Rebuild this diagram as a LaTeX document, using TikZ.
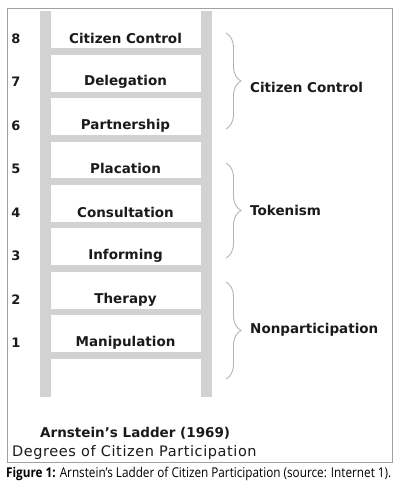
\documentclass[tikz,border=0pt]{standalone}
\usepackage{fontspec}
\usepackage{tikz}
\usetikzlibrary{decorations.pathreplacing}
\setmainfont{DejaVu Sans}
\newfontfamily\capfont[FakeStretch=0.87]{Open Sans}
\newfontfamily\subfont[LetterSpace=4]{DejaVu Sans}
\definecolor{railgray}{HTML}{D2D2D2}
\definecolor{bracegray}{HTML}{B4B4B4}
\definecolor{framegray}{HTML}{A0A0A0}
\definecolor{inkblack}{HTML}{1A1A1A}

\begin{document}
\begin{tikzpicture}[x=1pt, y=-1pt, inner sep=0pt]
        \tikzstyle{rail} = [fill=railgray, draw=none]
        \tikzstyle{rung} = [railgray, line width=6.5pt]
        \tikzstyle{rungtext} = [font=\fontsize{13.5}{14}\selectfont\bfseries, text=inkblack]
        \tikzstyle{num} = [font=\fontsize{13}{14}\selectfont\bfseries, text=inkblack]
        \tikzstyle{group} = [rungtext, anchor=west]
        \tikzstyle{bracket} = [draw=bracegray, line width=0.9pt, decorate, decoration={brace, amplitude=15pt, aspect=0.5}]

        \useasboundingbox (0,0) rectangle (400,494);
        \draw [framegray, line width=0.8pt] (7,8) rectangle (392,462);

        % ladder
        \fill [rail] (40,11) rectangle (50.5,397);
        \fill [rail] (201,11) rectangle (211.5,397);
        \foreach \y in {51.5, 94.9, 138.3, 181.7, 225.1, 268.5, 311.9, 355.3}
            \draw [rung] (50,\y) -- (201.5,\y);

        % rungs
        \node [rungtext] (r8) at (125.5,38.5) {Citizen Control};
        \node [rungtext] (r7) at (125.5,82) {Delegation};
        \node [rungtext] (r6) at (125.5,125.5) {Partnership};
        \node [rungtext] (r5) at (125.5,168.5) {Placation};
        \node [rungtext] (r4) at (125.5,212.5) {Consultation};
        \node [rungtext] (r3) at (125.5,256) {Informing};
        \node [rungtext] (r2) at (125.5,299.5) {Therapy};
        \node [rungtext] (r1) at (125.5,342.5) {Manipulation};

        \coordinate (numcol) at (16,0);
        \node [num] (n8) at (numcol |- r8) {8};
        \node [num] (n7) at (numcol |- r7) {7};
        \node [num] (n6) at (numcol |- r6) {6};
        \node [num] (n5) at (numcol |- r5) {5};
        \node [num] (n4) at (numcol |- r4) {4};
        \node [num] (n3) at (numcol |- r3) {3};
        \node [num] (n2) at (numcol |- r2) {2};
        \node [num] (n1) at (numcol |- r1) {1};

        % groups
        \coordinate (c1) at (226,33);  \coordinate (c2) at (226,129);
        \coordinate (t1) at (226,163); \coordinate (t2) at (226,258);
        \coordinate (p1) at (226,282); \coordinate (p2) at (226,379);
        \draw [bracket] (c1) -- (c2);
        \draw [bracket] (t1) -- (t2);
        \draw [bracket] (p1) -- (p2);
        \node [group] (gctrl) at (250,87) {Citizen Control};
        \node [group] (gtok) at (250,210) {Tokenism};
        \node [group] (gnon) at (250,330) {Nonparticipation};

        \node [rungtext, anchor=west] (title) at (40,433) {Arnstein’s Ladder (1969)};
        \node [font=\subfont\fontsize{14.5}{15}\selectfont, text=inkblack, anchor=west] (subtitle) at (12,452) {Degrees of Citizen Participation};

        \node [anchor=west, font=\capfont\fontsize{13.5}{15}\selectfont, text=black] (caption) at (6,474) {\textbf{Figure 1:} Arnstein’s Ladder of Citizen Participation (source: Internet 1).};
    \end{tikzpicture}
\end{document}
